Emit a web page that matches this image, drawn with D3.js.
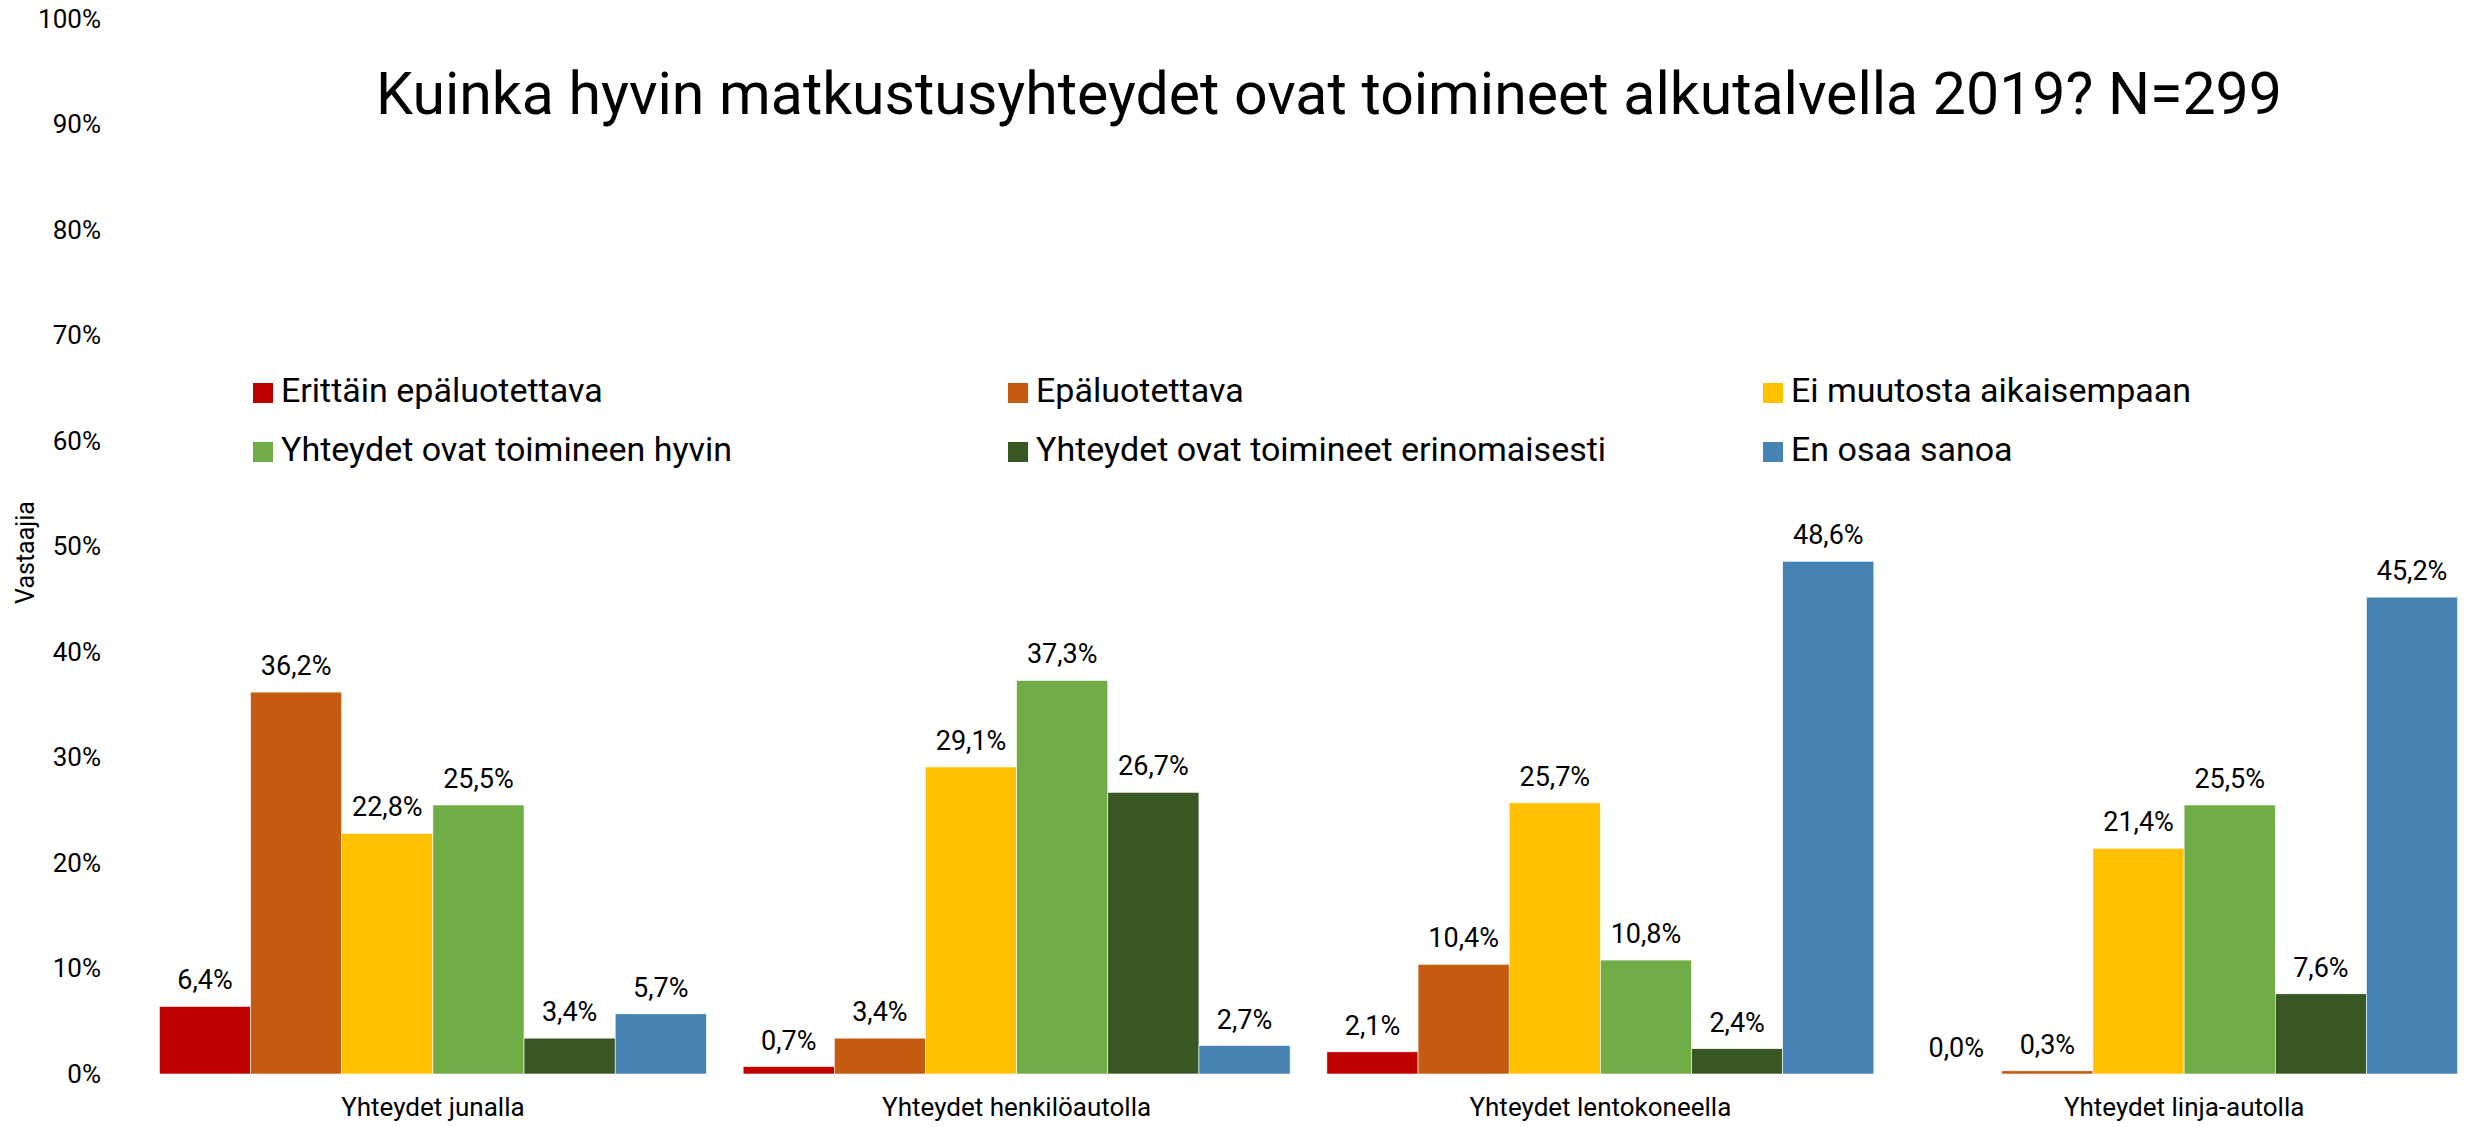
<!DOCTYPE html>
<html>
<head>
<meta charset="utf-8">
<script src="https://cdn.jsdelivr.net/npm/d3@7"></script>
<style>
    html, body { margin: 0; padding: 0; background: #fff; }
    svg { display: block; font-family: Roboto, "Noto Sans", sans-serif; }
</style>
</head>
<body>
<div id="chart"></div>
<script>
const categories = [
    "Yhteydet junalla",
    "Yhteydet henkilöautolla",
    "Yhteydet lentokoneella",
    "Yhteydet linja-autolla"
];

const seriesNames = [
    "Erittäin epäluotettava",
    "Epäluotettava",
    "Ei muutosta aikaisempaan",
    "Yhteydet ovat toimineen hyvin",
    "Yhteydet ovat toimineet erinomaisesti",
    "En osaa sanoa"
];

const seriesColours = ["#C00000", "#C55A11", "#FFC000", "#70AD47", "#385723", "#4682B4"];

// percent values, one array per series, in category order
const erittainEpaluotettava = [6.4, 0.7, 2.1, 0.0];
const epaluotettava = [36.2, 3.4, 10.4, 0.3];
const eiMuutosta = [22.8, 29.1, 25.7, 21.4];
const toimineenHyvin = [25.5, 37.3, 10.8, 25.5];
const erinomaisesti = [3.4, 26.7, 2.4, 7.6];
const enOsaaSanoa = [5.7, 2.7, 48.6, 45.2];

const seriesValues = [erittainEpaluotettava, epaluotettava, eiMuutosta, toimineenHyvin, erinomaisesti, enOsaaSanoa];

const yTicks = [0, 10, 20, 30, 40, 50, 60, 70, 80, 90, 100];

const width = 2476;
const height = 1127;
const margin = { top: 19, right: 0, bottom: 53, left: 141 };

const svg = d3.select("#chart").append("svg")
    .attr("width", width)
    .attr("height", height)
    .attr("viewBox", [0, 0, width, height]);

const x0 = d3.scaleBand()
    .domain(categories)
    .range([margin.left, width - margin.right])
    .paddingInner(0.063)
    .paddingOuter(0.0315);

const x1 = d3.scaleBand()
    .domain(seriesNames)
    .range([0, x0.bandwidth()]);

const y = d3.scaleLinear()
    .domain([0, 100])
    .range([height - margin.bottom, margin.top]);

const fmt = (v) => v.toFixed(1).replace(".", ",") + "%";

const rows = categories.map((c, ci) => ({
    category: c,
    values: seriesNames.map((s, si) => ({ series: s, idx: si, value: seriesValues[si][ci] }))
}));

const groups = svg.append("g")
    .selectAll("g")
    .data(rows)
    .join("g")
    .attr("transform", (d) => `translate(${x0(d.category)},0)`);

groups.selectAll("rect")
    .data((d) => d.values)
    .join("rect")
    .attr("x", (d) => x1(d.series))
    .attr("y", (d) => y(d.value))
    .attr("width", x1.bandwidth())
    .attr("height", (d) => y(0) - y(d.value))
    .attr("fill", (d) => seriesColours[d.idx])
    .attr("stroke", "#fff")
    .attr("stroke-width", 0.6);

groups.selectAll("text")
    .data((d) => d.values)
    .join("text")
    .attr("x", (d) => x1(d.series) + x1.bandwidth() / 2)
    .attr("y", (d) => y(d.value) - 17)
    .attr("text-anchor", "middle")
    .attr("font-size", 27)
    .attr("fill", "#000")
    .text((d) => fmt(d.value));

// y axis
const yAxis = svg.append("g")
    .attr("transform", `translate(${margin.left}, 0)`)
    .call(d3.axisLeft(y).tickValues(yTicks).tickFormat((d) => d + "%").tickSize(0).tickPadding(40));
yAxis.select(".domain").remove();
yAxis.selectAll("text")
    .attr("font-size", 26)
    .attr("font-family", "Roboto, 'Noto Sans', sans-serif")
    .attr("fill", "#000");

// x axis
const xAxis = svg.append("g")
    .attr("transform", `translate(0, ${height - margin.bottom})`)
    .call(d3.axisBottom(x0).tickSize(0).tickPadding(24));
xAxis.select(".domain").remove();
xAxis.selectAll("text")
    .attr("font-size", 26)
    .attr("font-family", "Roboto, 'Noto Sans', sans-serif")
    .attr("fill", "#000");

// y axis title
svg.append("text")
    .attr("transform", `translate(34, ${(margin.top + height - margin.bottom) / 2 + 6}) rotate(-90)`)
    .attr("text-anchor", "middle")
    .attr("font-size", 25)
    .attr("fill", "#000")
    .text("Vastaajia");

// title
svg.append("text")
    .attr("x", 1329)
    .attr("y", 114)
    .attr("text-anchor", "middle")
    .attr("font-size", 59)
    .attr("fill", "#000")
    .text("Kuinka hyvin matkustusyhteydet ovat toimineet alkutalvella 2019? N=299");

// legend: 3 columns, 2 rows
const legend = svg.append("g")
    .attr("transform", "translate(253, 393)");

const legendItems = legend.selectAll("g")
    .data(seriesNames)
    .join("g")
    .attr("transform", (d, i) => `translate(${(i % 3) * 755}, ${Math.floor(i / 3) * 59})`);

legendItems.append("rect")
    .attr("x", 0)
    .attr("y", -10)
    .attr("width", 20)
    .attr("height", 20)
    .attr("fill", (d, i) => seriesColours[i]);

legendItems.append("text")
    .attr("x", 28)
    .attr("y", 0)
    .attr("dominant-baseline", "middle")
    .attr("font-size", 34)
    .attr("fill", "#000")
    .text((d) => d);
</script>
</body>
</html>
